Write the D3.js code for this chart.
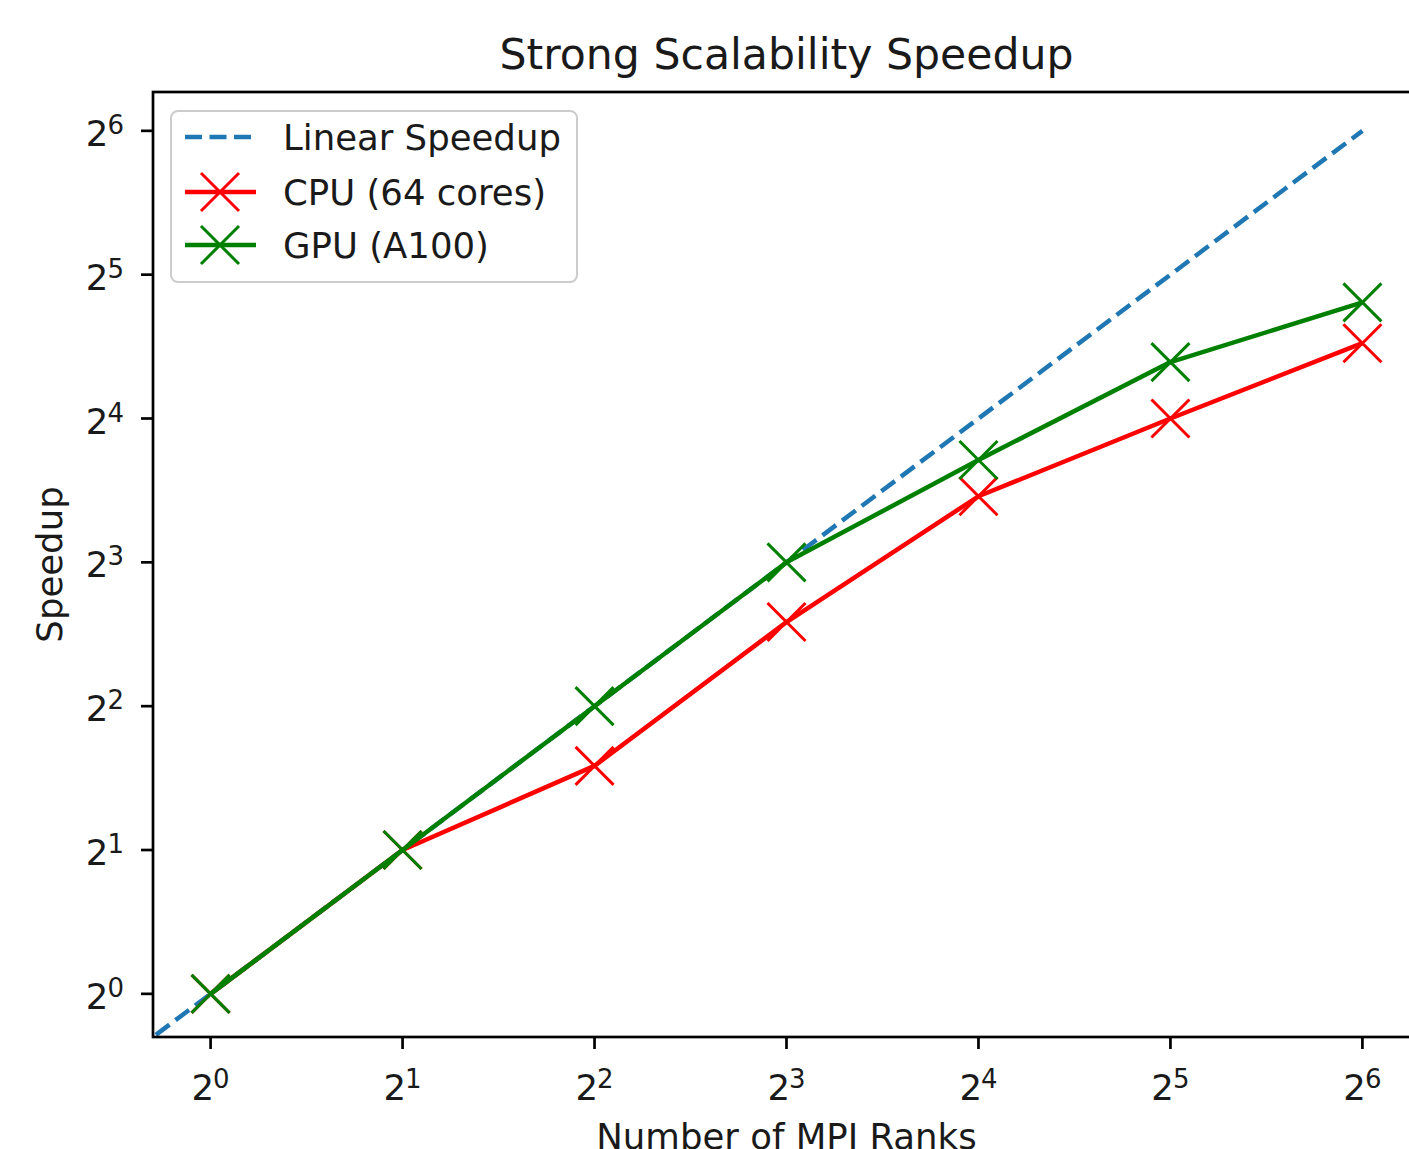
<!DOCTYPE html>
<html>
<head>
<meta charset="utf-8">
<script src="https://cdn.jsdelivr.net/npm/d3@7"></script>
<style>
  body { margin: 0; background: #fff; }
  text { font-family: "DejaVu Sans", sans-serif; fill: #1a1a1a; }
</style>
</head>
<body>
<div id="chart"></div>
<script>
// data
const ranks = [1, 2, 4, 8, 16, 32, 64];
const linearRanks = [0.5, 1, 2, 4, 8, 16, 32, 64];
const linearSpeedup = [0.5, 1, 2, 4, 8, 16, 32, 64];
const cpuSpeedup = [1, 2, 3, 6, 11, 16, 23];
const gpuSpeedup = [1, 2, 4, 8, 13.1, 21, 28];
const tickExps = [0, 1, 2, 3, 4, 5, 6];
const seriesNames = ["Linear Speedup", "CPU (64 cores)", "GPU (A100)"];

// constants
const w = 1409,
      h = 1149,
      fs = 35.5;
const ax = { left: 153, top: 92, right: 1420, bottom: 1037 };

let svg = d3.select("#chart")
            .append("svg")
            .attr("width", w)
            .attr("height", h);

let xScale = d3.scaleLog().base(2)
               .domain([Math.pow(2, -0.3), Math.pow(2, 6.3)])
               .range([ax.left, ax.right]);
let yScale = d3.scaleLog().base(2)
               .domain([Math.pow(2, -0.3), Math.pow(2, 6.27)])
               .range([ax.bottom, ax.top]);

svg.append("clipPath")
   .attr("id", "clip")
   .append("rect")
   .attr("x", ax.left)
   .attr("y", ax.top)
   .attr("width", ax.right - ax.left)
   .attr("height", ax.bottom - ax.top);

let plot = svg.append("g").attr("clip-path", "url(#clip)");

let line = d3.line()
             .x(d => xScale(d[0]))
             .y(d => yScale(d[1]));

// draw one x marker
function xMarker(g, cx, cy, color) {
  const r = 19;
  g.append("path")
   .attr("d", `M${cx - r},${cy - r}L${cx + r},${cy + r}M${cx - r},${cy + r}L${cx + r},${cy - r}`)
   .attr("stroke", color)
   .attr("stroke-width", 3)
   .attr("fill", "none");
}

// linear speedup
plot.append("path")
    .datum(linearRanks.map((r, i) => [r, linearSpeedup[i]]))
    .attr("d", line)
    .attr("fill", "none")
    .attr("stroke", "#1f77b4")
    .attr("stroke-width", 4.5)
    .attr("stroke-dasharray", "17,7.5");

// cpu + gpu
[[cpuSpeedup, "red"], [gpuSpeedup, "green"]].forEach(([vals, color]) => {
  let pts = ranks.map((r, i) => [r, vals[i]]);
  plot.append("path")
      .datum(pts)
      .attr("d", line)
      .attr("fill", "none")
      .attr("stroke", color)
      .attr("stroke-width", 4.5)
      .attr("stroke-linejoin", "round");
  pts.forEach(p => xMarker(plot, xScale(p[0]), yScale(p[1]), color));
});

// spines
svg.append("rect")
   .attr("x", ax.left)
   .attr("y", ax.top)
   .attr("width", ax.right - ax.left)
   .attr("height", ax.bottom - ax.top)
   .attr("fill", "none")
   .attr("stroke", "#000")
   .attr("stroke-width", 2.7);

// x ticks
let xt = svg.append("g");
tickExps.forEach(e => {
  let x = xScale(Math.pow(2, e));
  xt.append("line")
    .attr("x1", x).attr("x2", x)
    .attr("y1", ax.bottom).attr("y2", ax.bottom + 12)
    .attr("stroke", "#000").attr("stroke-width", 2.7);
  let t = xt.append("text")
            .attr("x", x)
            .attr("y", 1100)
            .attr("text-anchor", "middle")
            .style("font-size", fs + "px");
  t.append("tspan").text("2");
  t.append("tspan").attr("dy", -12).attr("dx", -1).style("font-size", "26px").text(e);
});

// y ticks
let yt = svg.append("g");
tickExps.forEach(e => {
  let y = yScale(Math.pow(2, e));
  yt.append("line")
    .attr("x1", ax.left - 12).attr("x2", ax.left)
    .attr("y1", y).attr("y2", y)
    .attr("stroke", "#000").attr("stroke-width", 2.7);
  let t = yt.append("text")
            .attr("x", 124)
            .attr("y", y + 15)
            .attr("text-anchor", "end")
            .style("font-size", fs + "px");
  t.append("tspan").text("2");
  t.append("tspan").attr("dy", -12).attr("dx", -1).style("font-size", "26px").text(e);
});

// title + axis labels
svg.append("text")
   .attr("x", (ax.left + ax.right) / 2)
   .attr("y", 69)
   .attr("text-anchor", "middle")
   .style("font-size", "42.6px")
   .text("Strong Scalability Speedup");

svg.append("text")
   .attr("x", (ax.left + ax.right) / 2)
   .attr("y", 1149)
   .attr("text-anchor", "middle")
   .style("font-size", fs + "px")
   .text("Number of MPI Ranks");

svg.append("text")
   .attr("transform", `translate(62, ${(ax.top + ax.bottom) / 2}) rotate(-90)`)
   .attr("text-anchor", "middle")
   .style("font-size", fs + "px")
   .text("Speedup");

// legend
let legend = svg.append("g");
legend.append("rect")
      .attr("x", 171).attr("y", 111)
      .attr("width", 406).attr("height", 171)
      .attr("rx", 7)
      .attr("fill", "#fff").attr("fill-opacity", 0.8)
      .attr("stroke", "#cccccc").attr("stroke-width", 2);

const rowY = [137, 192, 245],
      colors = ["#1f77b4", "red", "green"];
seriesNames.forEach((name, i) => {
  let y = rowY[i];
  let l = legend.append("line")
                .attr("x1", 185).attr("x2", 256)
                .attr("y1", y).attr("y2", y)
                .attr("stroke", colors[i])
                .attr("stroke-width", 4.5);
  if (i === 0) l.attr("stroke-dasharray", "17,7.5");
  else xMarker(legend, 220, y, colors[i]);
  legend.append("text")
        .attr("x", 283)
        .attr("y", y + 13)
        .style("font-size", fs + "px")
        .text(name);
});
</script>
</body>
</html>
